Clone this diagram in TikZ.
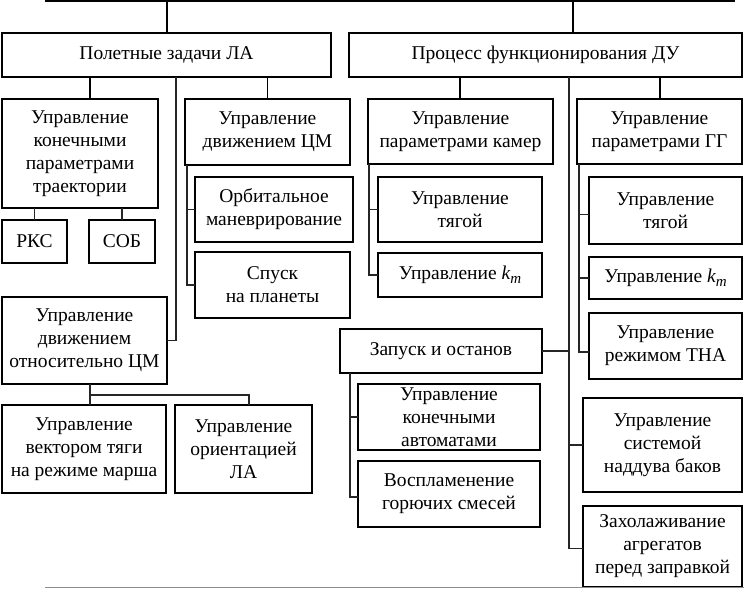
\documentclass[tikz,border=0pt]{standalone}
\usepackage{fontspec}
\setmainfont{Liberation Serif}
\newcommand\kmsym{{\itshape k\raisebox{-4pt}{\fontsize{15}{15}\selectfont m}}}
\begin{document}
\begin{tikzpicture}[x=1pt,y=-1pt,
  box/.style={draw=black, line width=2.4pt, rectangle, inner sep=0pt, outer sep=0pt,
    align=center, font=\fontsize{19.5}{23}\selectfont},
  conn/.style={draw=black!85, line width=1.1pt},
  connb/.style={draw=black, line width=1.6pt}]
\useasboundingbox (0,0) rectangle (744,589);
\newcommand\bx[6]{\node[box, anchor=north west, minimum width={(#4-#2)*1pt}, minimum height={(#5-#3)*1pt}] (#1) at (#2,#3) {#6};}
% top level
\bx{b1}{2}{33}{331}{77}{Полетные задачи ЛА}
\bx{b2}{349}{33}{742}{77}{Процесс функционирования ДУ}
% left
\bx{a1}{2}{99}{158}{208}{Управление\\конечными\\параметрами\\траектории}
\bx{a2}{185}{99}{350}{165}{Управление\\движением ЦМ}
\bx{rks}{2}{220}{67}{263}{РКС}
\bx{sob}{89}{220}{155}{263}{СОБ}
\bx{orb}{195}{177}{353}{242}{Орбитальное\\маневрирование}
\bx{spusk}{195}{252}{350}{318}{Спуск\\на планеты}
\bx{a3}{2}{297}{167}{384}{Управление\\движением\\относительно ЦМ}
\bx{vek}{2}{405}{166}{493}{Управление\\вектором тяги\\на режиме марша}
\bx{ori}{175}{405}{312}{493}{Управление\\ориентацией\\ЛА}
% right
\bx{c1}{368}{99}{553}{164}{Управление\\параметрами камер}
\bx{c2}{577}{99}{742}{164}{Управление\\параметрами ГГ}
\bx{ct}{378}{177}{542}{242}{Управление\\тягой}
\bx{ck}{378}{253}{542}{297}{Управление \kmsym}
\bx{gt}{589}{177}{742}{244}{Управление\\тягой}
\bx{gk}{589}{257}{742}{299}{Управление \kmsym}
\bx{gtna}{589}{313}{742}{379}{Управление\\режимом ТНА}
\bx{zap}{340}{329}{542}{373}{Запуск и останов}
\bx{ka}{358}{384}{540}{450}{Управление\\конечными\\автоматами}
\bx{vos}{358}{461}{540}{527}{Воспламенение\\горючих смесей}
\bx{nad}{583}{398}{742}{492}{Управление\\системой\\наддува баков}
\bx{zah}{583}{506}{742}{587}{Захолаживание\\агрегатов\\перед заправкой}
% top bar
\coordinate (tL) at (45,1);
\coordinate (tR) at (735,1);
\draw[draw=black, line width=2.5pt] (tL) -- (tR);
\draw[connb] (b1.north -| 167,0) -- (167,1);
\draw[connb] (b2.north -| 573,0) -- (573,1);
% left connectors
\draw[connb] ([xshift=10pt]a1.north) -- ([xshift=10pt]a1.north |- b1.south);
\draw[connb] (a2.north) -- (a2.north |- b1.south);
\coordinate (l1) at (176,77);
\draw[conn] (a3.east) -| (l1);
\draw[conn] (rks.north) -- (rks.north |- a1.south);
\draw[conn] (sob.north) -- (sob.north |- a1.south);
\coordinate (a2b) at (187,165);
\draw[conn] (a2b) |- (orb.west);
\draw[conn] (a2b) |- (spusk.west);
\coordinate (j3) at (90,395);
\draw[conn] (a3.south -| j3) -- (vek.north -| j3);
\draw[conn] (j3) -| ([xshift=5.5pt]ori.north);
% right connectors
\draw[connb] (b2.south -| 460,0) -- (c1.north -| 460,0);
\draw[connb] (b2.south -| 660,0) -- (c2.north -| 660,0);
\coordinate (c1b) at (369,164);
\draw[conn] (c1b) |- (ct.west);
\draw[conn] (c1b) |- (ck.west);
\coordinate (c2b) at (579,164);
\draw[conn] (c2b) |- ([yshift=-4pt]gt.west);
\draw[conn] (c2b) |- (gk.west);
\draw[conn] (c2b) |- ([yshift=-6pt]gtna.west);
\coordinate (r1) at (569,77);
\draw[conn] (r1) |- ([yshift=-2pt]zah.west);
\draw[conn] (zap.east) -- (zap.east -| r1);
\draw[conn] (nad.west) -- (nad.west -| r1);
\coordinate (zb) at (350,373);
\draw[conn] (zb) |- (ka.west);
\draw[conn] (zb) |- ([yshift=-3pt]vos.west);
% bottom grey line
\coordinate (bL) at (45,587.5);
\coordinate (bR) at (744,587.5);
\draw[draw=black!45, line width=1.2pt] (bL) -- (bR);
\end{tikzpicture}
\end{document}
